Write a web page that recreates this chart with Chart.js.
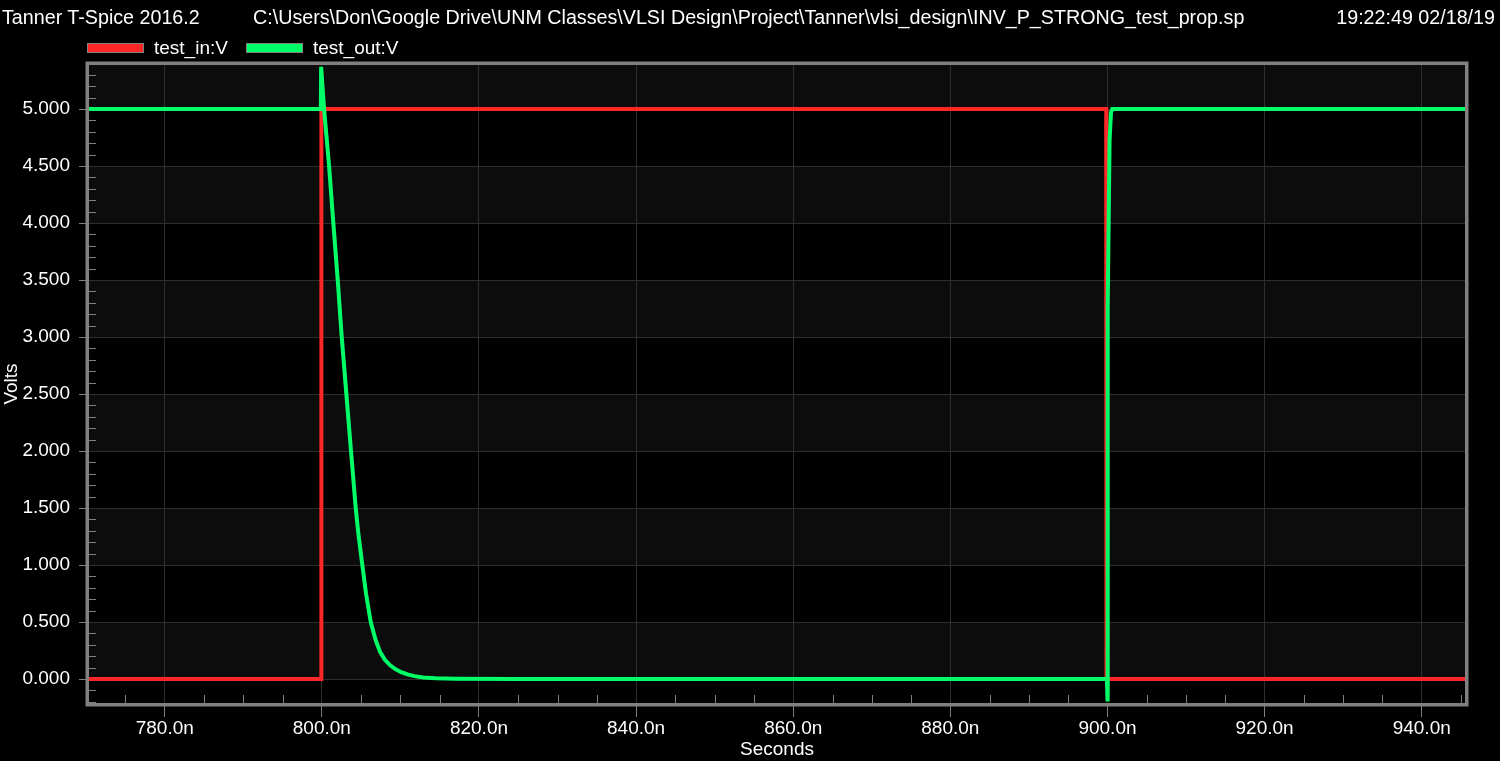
<!DOCTYPE html>
<html><head><meta charset="utf-8">
<script src="https://cdn.jsdelivr.net/npm/chart.js@4.4.0/dist/chart.umd.min.js"></script>
<style>
html,body{margin:0;padding:0;background:#000;width:1500px;height:761px;overflow:hidden;}
#wrap{position:absolute;left:0;top:0;width:1500px;height:761px;}
.txt{position:absolute;color:#fff;font-family:'Liberation Sans',Arial,sans-serif;font-size:19.7px;line-height:19px;white-space:nowrap;}
#leg{position:absolute;left:87px;top:38px;height:19px;display:flex;align-items:center;font-family:'Liberation Sans',Arial,sans-serif;font-size:19px;line-height:19px;color:#fff;}
.item{display:flex;align-items:center;margin-right:18px;white-space:nowrap;}
.box{width:55px;height:8px;border:1px solid #808080;margin-right:10px;}
</style></head><body>
<div id="wrap"><canvas id="c"></canvas></div>
<div id="hdr"></div>
<div id="leg"></div>
<script>
// ---- data ----
const headerTexts = ['Tanner T-Spice 2016.2',
  'C:\\Users\\Don\\Google Drive\\UNM Classes\\VLSI Design\\Project\\Tanner\\vlsi_design\\INV_P_STRONG_test_prop.sp',
  '19:22:49 02/18/19'];
const seriesNames = ['test_in:V', 'test_out:V'];
const xTitle = 'Seconds';
const yTitle = 'Volts';
const xMin = 770.36, xMax = 945.51;       // ns
const yMin = -0.2105, yMax = 5.386;       // V
const xTicks = [780, 800, 820, 840, 860, 880, 900, 920, 940];
const yTicks = [0, 0.5, 1, 1.5, 2, 2.5, 3, 3.5, 4, 4.5, 5];
const xMinorStep = 5, yMinorStep = 0.1, bandStep = 0.5;

// test_in:V
const inT = [770.36, 799.9, 799.94, 899.84, 899.88, 945.51];
const inV = [0, 0, 5, 5, 0, 0];
// test_out:V
const outT = [770.36, 799.87, 799.91, 800.28, 800.92, 801.46, 802.02, 802.53, 803.12, 803.71, 804.31, 804.64,
  805.15, 805.62, 806.22, 806.85, 807.4, 808.0, 808.7, 809.4, 810.1, 810.9, 811.8, 812.9, 814.5, 817, 825, 899.93,
  900.0, 900.03, 900.27, 900.45, 900.62, 945.51];
const outV = [5, 5, 5.37, 5.0, 4.5, 4.0, 3.5, 3.0, 2.5, 2.0, 1.5, 1.28,
  1.0, 0.75, 0.5, 0.34, 0.24, 0.17, 0.12, 0.085, 0.06, 0.04, 0.025, 0.014, 0.007, 0.003, 0.001, 0.0,
  -0.18, 3.27, 4.73, 4.97, 5.0, 5.0];

// ---- header & legend (DOM text) ----
const hdr = document.getElementById('hdr');
const hdrPos = [{left: '2px'}, {left: '253px'}, {right: '5px'}];
headerTexts.forEach((t, i) => {
  const d = document.createElement('div');
  d.className = 'txt'; d.textContent = t; d.style.top = '8px';
  Object.assign(d.style, hdrPos[i]);
  hdr.appendChild(d);
});
const lineColors = ['#ff2626', '#00ff66'];
const leg = document.getElementById('leg');
seriesNames.forEach((n, i) => {
  const it = document.createElement('div'); it.className = 'item';
  const b = document.createElement('div'); b.className = 'box'; b.style.background = lineColors[i];
  const s = document.createElement('span'); s.textContent = n;
  it.appendChild(b); it.appendChild(s); leg.appendChild(it);
});

// ---- decorations plugin: bands, minor ticks, frame ----
const plotDecor = {
  id: 'plotDecor',
  beforeDraw(chart) {
    const {ctx, chartArea: a, scales: {y}} = chart;
    ctx.save();
    ctx.fillStyle = '#000';
    ctx.fillRect(0, 0, chart.width, chart.height);
    ctx.beginPath(); ctx.rect(a.left, a.top, a.right - a.left, a.bottom - a.top); ctx.clip();
    for (let k = Math.floor(y.min / bandStep); k * bandStep < y.max; k++) {
      if (k % 2 === 0) {
        const p0 = y.getPixelForValue(k * bandStep), p1 = y.getPixelForValue((k + 1) * bandStep);
        ctx.fillStyle = '#0c0c0c';
        ctx.fillRect(a.left, p1, a.right - a.left, p0 - p1);
      }
    }
    ctx.restore();
  },
  beforeDatasetsDraw(chart) {
    const {ctx, chartArea: a, scales: {x, y}} = chart;
    ctx.save();
    ctx.strokeStyle = '#808080'; ctx.lineWidth = 1;
    ctx.beginPath();
    for (let i = Math.ceil(x.min / xMinorStep); i * xMinorStep <= x.max; i++) {
      const v = i * xMinorStep;
      if (Math.abs(v / 20 - Math.round(v / 20)) < 1e-9) continue;
      const px = Math.round(x.getPixelForValue(v)) + 0.5;
      ctx.moveTo(px, a.bottom); ctx.lineTo(px, a.bottom - 8);
    }
    for (let i = Math.ceil(y.min / yMinorStep - 1e-9); i * yMinorStep <= y.max; i++) {
      if (i % 5 === 0) continue;
      const py = Math.round(y.getPixelForValue(i * yMinorStep)) + 0.5;
      ctx.moveTo(a.left, py); ctx.lineTo(a.left + 7, py);
    }
    ctx.stroke();
    ctx.restore();
  },
  afterDatasetsDraw(chart) {
    const {ctx, chartArea: a} = chart;
    ctx.save();
    ctx.strokeStyle = '#808080'; ctx.lineWidth = 3.5;
    ctx.strokeRect(a.left - 1.75, a.top - 1.75, a.right - a.left + 3.5, a.bottom - a.top + 3.5);
    ctx.restore();
  }
};

Chart.defaults.font.family = "'Liberation Sans', Arial, sans-serif";
Chart.defaults.font.size = 19;
Chart.defaults.color = '#ffffff';

new Chart(document.getElementById('c'), {
  type: 'line',
  data: {
    datasets: [
      {label: seriesNames[0], data: inT.map((t, i) => ({x: t, y: inV[i]})), borderColor: lineColors[0],
       backgroundColor: lineColors[0], borderWidth: 4, pointRadius: 0, tension: 0, order: 1},
      {label: seriesNames[1], data: outT.map((t, i) => ({x: t, y: outV[i]})), borderColor: lineColors[1],
       backgroundColor: lineColors[1], borderWidth: 4, pointRadius: 0, tension: 0, order: 0}
    ]
  },
  options: {
    responsive: true, maintainAspectRatio: false, animation: false, events: [],
    layout: {padding: {top: 65, right: 35, left: 0, bottom: 0}},
    plugins: {legend: {display: false}, tooltip: {enabled: false}},
    scales: {
      x: {
        type: 'linear', min: xMin, max: xMax,
        afterBuildTicks: s => { s.ticks = xTicks.map(v => ({value: v})); },
        afterFit: s => { s.height = 58; },
        ticks: {callback: v => Number(v).toFixed(1) + 'n', color: '#fff', padding: 0, maxRotation: 0, autoSkip: false},
        grid: {color: '#2e2e2e', lineWidth: 1, tickColor: '#808080', tickLength: 14, tickWidth: 1},
        border: {display: false},
        title: {display: true, text: xTitle, color: '#fff', padding: 0}
      },
      y: {
        type: 'linear', min: yMin, max: yMax,
        afterBuildTicks: s => { s.ticks = yTicks.map(v => ({value: v})); },
        afterFit: s => { s.width = 89; },
        ticks: {callback: v => Number(v).toFixed(3), color: '#fff', padding: 9, autoSkip: false},
        grid: {color: '#2e2e2e', lineWidth: 1, tickColor: '#808080', tickLength: 10, tickWidth: 1},
        border: {display: false},
        title: {display: true, text: yTitle, color: '#fff', padding: 0}
      }
    }
  },
  plugins: [plotDecor]
});
</script>
</body></html>
